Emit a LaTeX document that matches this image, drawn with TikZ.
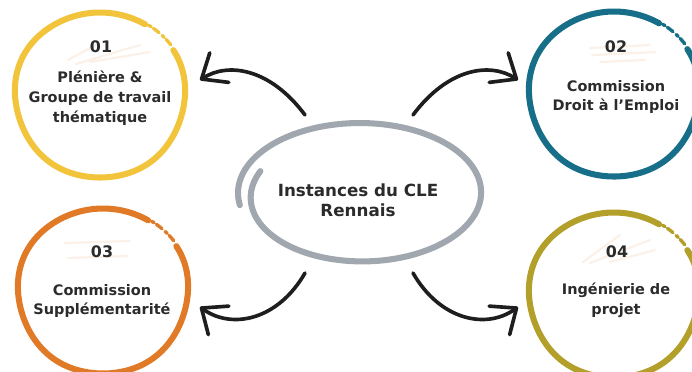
\documentclass[tikz,border=0pt]{standalone}
\usepackage{fontspec}
\setmainfont{DejaVu Sans}
\usetikzlibrary{arrows.meta, positioning}

\definecolor{cleyellow}{HTML}{F2C43C}
\definecolor{cleteal}{HTML}{176E88}
\definecolor{cleorange}{HTML}{E07A26}
\definecolor{cleolive}{HTML}{B3A02B}
\definecolor{clegray}{HTML}{A0A7AF}
\definecolor{cletext}{HTML}{2B2B2B}
\definecolor{clearrow}{HTML}{1E1E1E}
\definecolor{clehatch}{HTML}{FBF1E8}

\begin{document}
\begin{tikzpicture}[x=0.025cm, y=-0.025cm,
        ring/.style={line width=4.3pt, line cap=round, line join=round},
        hatch/.style={draw=clehatch, line width=1.6pt, line cap=round},
        numtxt/.style={text=cletext, font=\fontsize{11.3}{13}\selectfont\bfseries},
        labeltxt/.style={text=cletext, align=center, font=\fontsize{10.3}{14.2}\selectfont\bfseries},
        arr/.style={draw=clearrow, line width=2.6pt, line cap=round,
            -{Straight Barb[length=15pt, width=25pt, line width=2.6pt, round]}}]
        \useasboundingbox (0,0) rectangle (692,371);

        % faint pencil marks behind the numbers
        \draw[hatch] (68,60) -- (98,44) (76,64) -- (140,45) (90,62) -- (150,52);
        \draw[hatch] (590,48) -- (650,45) (592,55) -- (655,52) (600,62) -- (645,60);
        \draw[hatch] (65,243) -- (130,241) (68,258) -- (128,256);
        \draw[hatch] (583,262) -- (620,235) (590,263) -- (650,240) (610,262) -- (655,250);

        % hand drawn rings
        \foreach \cx/\cy/\col in {100/95/cleyellow, 614/94/cleteal, 103/291/cleorange, 614/295/cleolive} {
            \draw[ring, draw=\col] plot[domain=58:392, samples=70, smooth]
                ({\cx+(85+1.5*sin(3*\x))*cos(\x)}, {\cy-(84+1.5*cos(2*\x))*sin(\x)});
            \draw[ring, draw=\col, line width=2.4pt, dash pattern=on 5pt off 2pt on 2pt off 3pt]
                plot[domain=36:58, samples=8, smooth]
                ({\cx+(86+1.5*sin(3*\x))*cos(\x)}, {\cy-(85+1.5*cos(2*\x))*sin(\x)});
        }
        \draw[ring, draw=clegray] plot[domain=-200:190, samples=90, smooth]
            ({360+(122-16*((190-\x)/390)^4)*cos(\x)}, {193-(70-6*((190-\x)/390)^4)*sin(\x)});

        % texts
        \node[text=cletext, align=center, font=\fontsize{11.9}{14.2}\selectfont\bfseries] (cle) at (358,200) {Instances du CLE\\Rennais};

        \node[numtxt] (n1) at (101,47) {01};
        \node[labeltxt] (l1) at (100,98) {Plénière \&\\Groupe de travail\\thématique};
        \node[numtxt] (n2) at (616,47) {02};
        \node[labeltxt] (l2) at (616,97) {Commission\\Droit à l’Emploi};
        \node[numtxt] (n3) at (102,252) {03};
        \node[labeltxt] (l3) at (102,301) {Commission\\Supplémentarité};
        \node[numtxt] (n4) at (617,252) {04};
        \node[labeltxt] (l4) at (616,300) {Ingénierie de\\projet};

        % arrows
        \coordinate (t1) at (305,115);
        \coordinate (h1) at (200,80);
        \coordinate (t2) at (413,115);
        \coordinate (h2) at (518,80);
        \coordinate (t3) at (305,273);
        \coordinate (h3) at (200,307);
        \coordinate (t4) at (413,273);
        \coordinate (h4) at (518,307);

        \draw[arr] (t1) .. controls (270,68) and (228,62) .. (h1);
        \draw[arr] (t2) .. controls (448,68) and (490,62) .. (h2);
        \draw[arr] (t3) .. controls (278,320) and (232,330) .. (h3);
        \draw[arr] (t4) .. controls (440,320) and (486,330) .. (h4);
\end{tikzpicture}
\end{document}
